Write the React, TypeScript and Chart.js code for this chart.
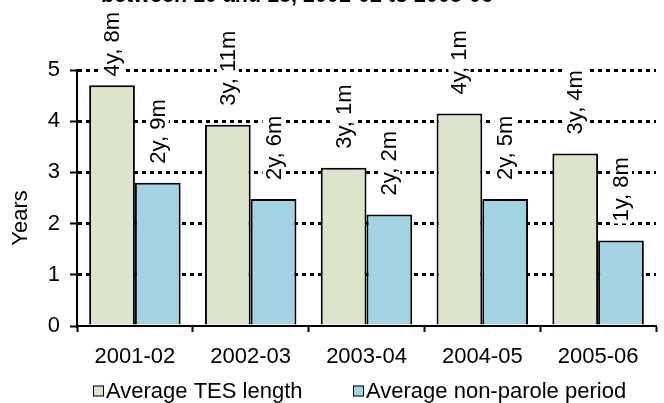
import React, { useEffect, useRef } from "react";
import { Chart, registerables } from "chart.js";

Chart.register(...registerables);

const categories = ["2001-02", "2002-03", "2003-04", "2004-05", "2005-06"];
const seriesNames = ["Average TES length", "Average non-parole period"];
const tesValues = [4.7, 3.93, 3.09, 4.15, 3.37];
const nonParoleValues = [2.8, 2.48, 2.18, 2.48, 1.67];
const tesLabels = ["4y, 8m", "3y, 11m", "3y, 1m", "4y, 1m", "3y, 4m"];
const nonParoleLabels = ["2y, 9m", "2y, 6m", "2y, 2m", "2y, 5m", "1y, 8m"];
const yMin = 0;
const yMax = 5;
const yStep = 1;
const titleText = "between 10 and 18, 2001-02 to 2005-06";
const yAxisTitle = "Years";

const FONT = "'Liberation Sans', Arial, sans-serif";
const FS = 22;
const GREEN = "#DCE5CC";
const BLUE = "#A1D3E3";

const valueLabelSets = [tesLabels, nonParoleLabels];
const seriesColors = [GREEN, BLUE];

const overlayPlugin = {
  id: "overlay",
  afterDatasetsDraw(chart: any) {
    const ctx = chart.ctx;
    ctx.save();
    ctx.font = `${FS}px ${FONT}`;
    chart.data.datasets.forEach((_ds: any, di: number) => {
      const meta = chart.getDatasetMeta(di);
      const labels = valueLabelSets[di];
      meta.data.forEach((el: any, i: number) => {
        const text = labels[i];
        const w = ctx.measureText(text).width;
        let bottom = el.y - 19;
        if (bottom - w < 12) bottom = 12 + w;
        ctx.save();
        ctx.translate(el.x, bottom);
        ctx.rotate(-Math.PI / 2);
        ctx.fillStyle = "#fff";
        ctx.fillRect(-2, -11, w + 4, 22);
        ctx.fillStyle = "#000";
        ctx.textAlign = "left";
        ctx.textBaseline = "middle";
        ctx.fillText(text, 0, 1);
        ctx.restore();
      });
    });
    ctx.restore();
  },
  afterDraw(chart: any) {
    const ctx = chart.ctx;
    ctx.save();
    // title (partially cropped at top)
    ctx.font = `bold 21.5px ${FONT}`;
    ctx.fillStyle = "#000";
    ctx.textAlign = "left";
    ctx.textBaseline = "alphabetic";
    ctx.fillText(titleText, 101, 2);
    // y axis title
    ctx.save();
    ctx.font = `${FS}px ${FONT}`;
    ctx.translate(21, 218);
    ctx.rotate(-Math.PI / 2);
    ctx.textAlign = "center";
    ctx.textBaseline = "middle";
    ctx.fillText(yAxisTitle, 0, 0);
    ctx.restore();
    // legend
    const legendX = [93, 353];
    const ly = 391;
    ctx.font = `${FS}px ${FONT}`;
    ctx.textBaseline = "middle";
    chart.data.datasets.forEach((ds: any, di: number) => {
      const x = legendX[di];
      ctx.fillStyle = seriesColors[di];
      ctx.fillRect(x, ly - 5.5, 11, 11);
      ctx.strokeStyle = "#000";
      ctx.lineWidth = 1;
      ctx.strokeRect(x + 0.5, ly - 5, 10, 10);
      ctx.fillStyle = "#000";
      ctx.fillText(ds.label, x + 13, ly + 1);
    });
    ctx.restore();
  },
};

export default function App() {
  const ref = useRef<HTMLCanvasElement>(null);
  useEffect(() => {
    const canvas = ref.current;
    if (!canvas) return;
    const chart = new Chart(canvas, {
      type: "bar",
      data: {
        labels: categories,
        datasets: [
          {
            label: seriesNames[0],
            data: tesValues,
            backgroundColor: GREEN,
            borderColor: "#000",
            borderWidth: 2,
            categoryPercentage: 0.79,
            barPercentage: 1.0,
          },
          {
            label: seriesNames[1],
            data: nonParoleValues,
            backgroundColor: BLUE,
            borderColor: "#000",
            borderWidth: 2,
            categoryPercentage: 0.79,
            barPercentage: 1.0,
          },
        ],
      },
      options: {
        responsive: false,
        devicePixelRatio: 1,
        animation: false,
        layout: { padding: { top: 70, right: 8, left: 0, bottom: 0 } },
        plugins: {
          legend: { display: false },
          title: { display: false },
          tooltip: { enabled: false },
        },
        scales: {
          x: {
            offset: true,
            grid: {
              display: true,
              offset: true,
              drawOnChartArea: false,
              drawTicks: true,
              tickLength: 6,
              tickColor: "#000",
              tickWidth: 2,
            },
            border: { display: true, color: "#000", width: 2 },
            ticks: {
              color: "#000",
              font: { family: FONT, size: FS },
              padding: 12,
              maxRotation: 0,
            },
            afterFit: (scale: any) => {
              scale.height = 77;
            },
          },
          y: {
            min: yMin,
            max: yMax,
            grid: {
              color: (c: any) => (c.tick && c.tick.value === 0 ? "rgba(0,0,0,0)" : "#000"),
              lineWidth: 3,
              drawTicks: true,
              tickLength: 7,
              tickColor: "#000",
              tickWidth: 2,
            },
            border: { display: true, color: "#000", width: 2, dash: [4, 4] },
            ticks: {
              stepSize: yStep,
              color: "#000",
              font: { family: FONT, size: FS },
              padding: 10,
            },
            afterFit: (scale: any) => {
              scale.width = 77;
            },
          },
        },
      },
      plugins: [overlayPlugin],
    });
    return () => chart.destroy();
  }, []);
  return (
    <div style={{ position: "absolute", left: 0, top: 0, width: 664, height: 403, background: "#fff" }}>
      <canvas ref={ref} width={664} height={403} style={{ display: "block" }} />
    </div>
  );
}
